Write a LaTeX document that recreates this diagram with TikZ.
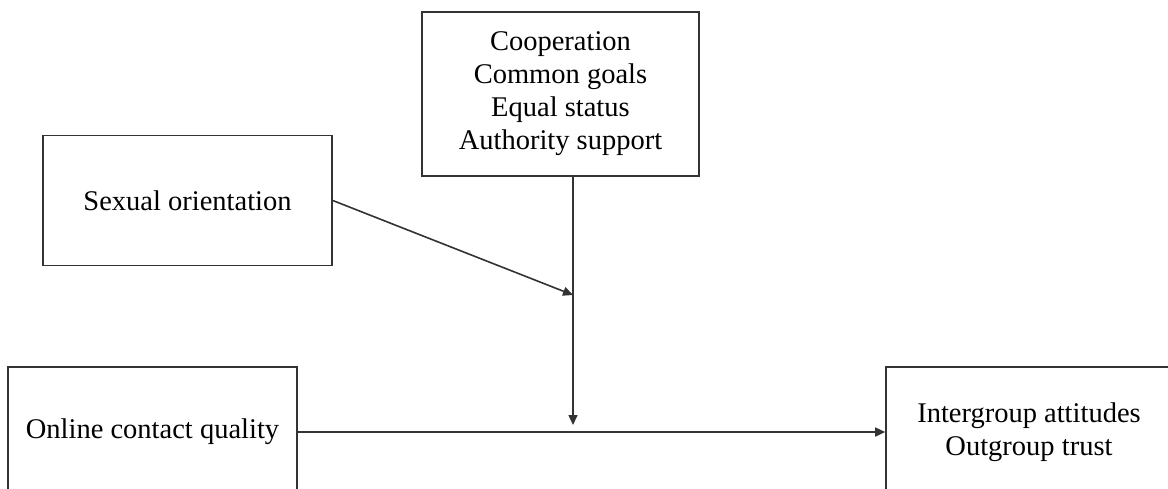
\documentclass[tikz,border=0pt]{standalone}
\usepackage{fontspec}
\setmainfont{Liberation Serif}
\usetikzlibrary{arrows.meta}

\tikzset{
  link/.style={draw=black!80, line width=1.6pt, -{Triangle[length=10pt,width=9pt]}},
}

\begin{document}
\begin{tikzpicture}[x=1pt,y=-1pt]

        \clip (0,0) rectangle (1168,488);

        \begin{scope}[every node/.style={rectangle, draw=black!80, line width=1.6pt,
            align=center, inner sep=0pt, minimum width=289pt, minimum height=130pt,
            font=\fontsize{28.5}{33}\selectfont}]
          \node[minimum width=277pt, minimum height=164pt] (cond) at (560.5,94)
            {Cooperation\\Common goals\\Equal status\\Authority support};
          \node (orient)  at (187.5,200.5) {Sexual orientation};
          \node (quality) at (152.5,432)   {Online contact quality};
          \node[minimum width=286pt] (outcome) at (1029,432)
            {Intergroup attitudes\\Outgroup trust};
        \end{scope}

        % moderator path meets the main line here
        \coordinate (mod) at (573,295);
        \coordinate (hit) at (573,425);

        \draw[link] (cond.south -| mod) -- (hit);
        \draw[link] (orient.east) -- (mod);
        \draw[link] (quality) -- (outcome);

      \end{tikzpicture}
\end{document}
